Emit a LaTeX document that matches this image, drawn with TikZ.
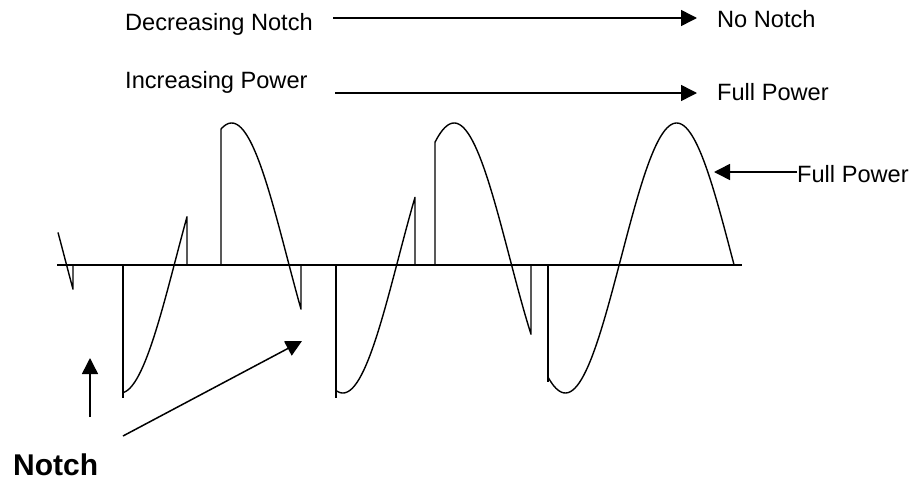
\documentclass[tikz,border=0pt]{standalone}
\usepackage{fontspec}
\setmainfont{Liberation Sans}
\usetikzlibrary{arrows.meta}
\begin{document}
\begin{tikzpicture}[x=1pt,y=-1pt,
  declare function={wv(\t)=258-135*sin(1.61798*(\t-398.5));},
  wave/.style={line width=1.4pt, line join=round},
  axisline/.style={line width=2.3pt},
  arr/.style={line width=1.5pt, -{Triangle[length=16pt,width=16pt]}},
  lbl/.style={anchor=base west, inner sep=0pt, font=\fontsize{23.6}{27}\selectfont},
  big/.style={anchor=base west, inner sep=0pt, font=\fontsize{30}{34}\selectfont\bfseries}]
\useasboundingbox (0,0) rectangle (922,482);

% labels
\node[lbl] (dn) at (125,30) {Decreasing Notch};
\node[lbl] (ip) at (125,88) {Increasing Power};
\node[lbl] (nn) at (717,27) {No Notch};
\node[lbl] (fp) at (717,100) {Full Power};
\node[lbl] (fp2) at (797,182) {Full Power};
\node[big] (notch) at (13,475) {Notch};

% arrow coordinates
\coordinate (a1s) at (333,18);
\coordinate (a1e) at (697,18);
\coordinate (a2s) at (335,93);
\coordinate (a2e) at (697,93);
\coordinate (a3e) at (714,172);
\coordinate (a4s) at (90,417);
\coordinate (a4e) at (90,358);
\coordinate (a5s) at (123,436);
\coordinate (a5e) at (302,341);

% axis
\coordinate (ax0) at (57,265);
\coordinate (ax1) at (742,265);
\draw[axisline] (ax0) -- (ax1);

% waveform segments
\draw[wave] plot[domain=58:73,samples=20] (\x,{wv(\x)}) -- (73,265);
\draw[wave] (123,265) -- (123,398);
\draw[wave] plot[domain=123:187,samples=50] (\x,{wv(\x)}) -- (187,265);
\draw[wave] (221,265) -- (221,{wv(221)}) -- plot[domain=221:301,samples=60] (\x,{wv(\x)}) -- (301,265);
\draw[wave] (336,265) -- (336,398);
\draw[wave] plot[domain=336:415,samples=60] (\x,{wv(\x)}) -- (415,265);
\draw[wave] (435,265) -- (435,{wv(435)}) -- plot[domain=435:531,samples=70] (\x,{wv(\x)}) -- (531,265);
\draw[wave] (548,265) -- (548,{wv(548)+5});
\draw[wave] plot[domain=548:734,samples=120] (\x,{wv(\x)});

% arrows
\draw[arr] (a1s) -- (a1e);
\draw[arr] (a2s) -- (a2e);
\draw[arr] (fp2.west |- a3e) -- (a3e);
\draw[arr] (a4s) -- (a4e);
\draw[arr] (a5s) -- (a5e);
\end{tikzpicture}
\end{document}
